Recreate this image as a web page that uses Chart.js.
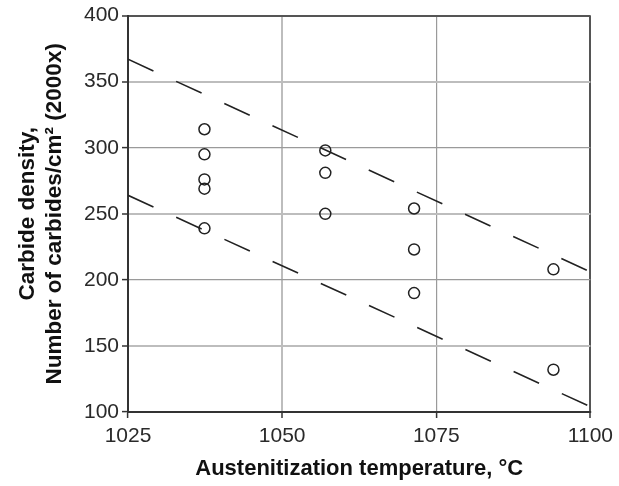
<!DOCTYPE html>
<html>
<head>
<meta charset="utf-8">
<script src="https://cdn.jsdelivr.net/npm/chart.js@4.4.1/dist/chart.umd.min.js"></script>
<style>
  html, body { margin: 0; padding: 0; background: #fff; }
  #wrap { width: 619px; height: 486px; }
</style>
</head>
<body>
<div id="wrap"><canvas id="grafico"></canvas></div>
<script>
// measured points (austenitization temp, carbide density)
const temperaturas = [1037.4, 1037.4, 1037.4, 1037.4, 1037.4, 1057, 1057, 1057, 1071.4, 1071.4, 1071.4, 1094, 1094]
const densidades = [314, 295, 276, 269, 239, 298, 281, 250, 254, 223, 190, 208, 132]

// dashed bounds
const limiteX = [1025, 1100]
const limiteSuperior = [367, 206]
const limiteInferior = [264, 104]

const xTicks = [1025, 1050, 1075, 1100]
const yTicks = [100, 150, 200, 250, 300, 350, 400]

const pontos = temperaturas.map((t, i) => ({ x: t, y: densidades[i] }))
const linha = (ys) => limiteX.map((x, i) => ({ x: x, y: ys[i] }))

const ctx = document.getElementById('grafico')

// edges darker, some grid lines look wider/lighter in the original
const bordas = [400, 1100]
const largas = [350, 250, 150, 1050]

const corGrade = (c) => {
    const v = c.tick && c.tick.value
    if (bordas.includes(v)) return '#555'
    if (largas.includes(v)) return '#bdbdbd'
    return '#9a9a9a'
}
const larguraGrade = (c) => {
    const v = c.tick && c.tick.value
    if (bordas.includes(v)) return 2
    if (largas.includes(v)) return 2
    return 1.2
}

const fonte = 'Arial, "Liberation Sans", sans-serif'

var chart = new Chart(ctx, {
    type: 'scatter',
    data: {
        datasets: [{
            data: pontos,
            pointRadius: 5.5,
            pointBorderWidth: 1.5,
            pointBorderColor: '#222',
            pointBackgroundColor: 'rgba(0,0,0,0)',
            showLine: false
        }, {
            data: linha(limiteSuperior),
            showLine: true,
            borderColor: '#222',
            borderWidth: 1.6,
            borderDash: [28, 25],
            pointRadius: 0
        }, {
            data: linha(limiteInferior),
            showLine: true,
            borderColor: '#222',
            borderWidth: 1.6,
            borderDash: [28, 25],
            pointRadius: 0
        }]
    },
    options: {
        responsive: true,
        maintainAspectRatio: false,
        animation: false,
        layout: { padding: { top: 14, right: 24, left: 0, bottom: 0 } },
        plugins: { legend: { display: false }, tooltip: { enabled: false } },
        scales: {
            x: {
                type: 'linear',
                min: 1025,
                max: 1100,
                afterBuildTicks: (s) => { s.ticks = xTicks.map(v => ({ value: v })) },
                afterFit: (s) => { s.height = 74 },
                grid: { color: corGrade, lineWidth: larguraGrade, tickLength: 6, tickColor: '#333', tickWidth: 1.5 },
                border: { color: '#333', width: 2 },
                ticks: {
                    color: '#2a2a2a',
                    font: { family: fonte, size: 21 },
                    padding: 6,
                    maxRotation: 0,
                    callback: (v) => String(v)
                },
                title: {
                    display: true,
                    text: 'Austenitization temperature, °C',
                    color: '#111',
                    font: { family: fonte, size: 22, weight: 'bold' },
                    padding: { top: 4, bottom: 4 }
                }
            },
            y: {
                min: 100,
                max: 400,
                afterBuildTicks: (s) => { s.ticks = yTicks.map(v => ({ value: v })) },
                afterFit: (s) => { s.width = 128 },
                grid: { color: corGrade, lineWidth: larguraGrade, tickLength: 6, tickColor: '#333', tickWidth: 1.5 },
                border: { color: '#333', width: 2 },
                ticks: {
                    color: '#2a2a2a',
                    font: { family: fonte, size: 21 },
                    padding: 3,
                    callback: (v) => String(v)
                },
                title: {
                    display: true,
                    text: ['Carbide density,', 'Number of carbides/cm² (2000x)'],
                    color: '#111',
                    font: { family: fonte, size: 22.5, weight: 'bold', lineHeight: 1.18 },
                    padding: { top: 15, bottom: 0 }
                }
            }
        }
    }
})
</script>
</body>
</html>
